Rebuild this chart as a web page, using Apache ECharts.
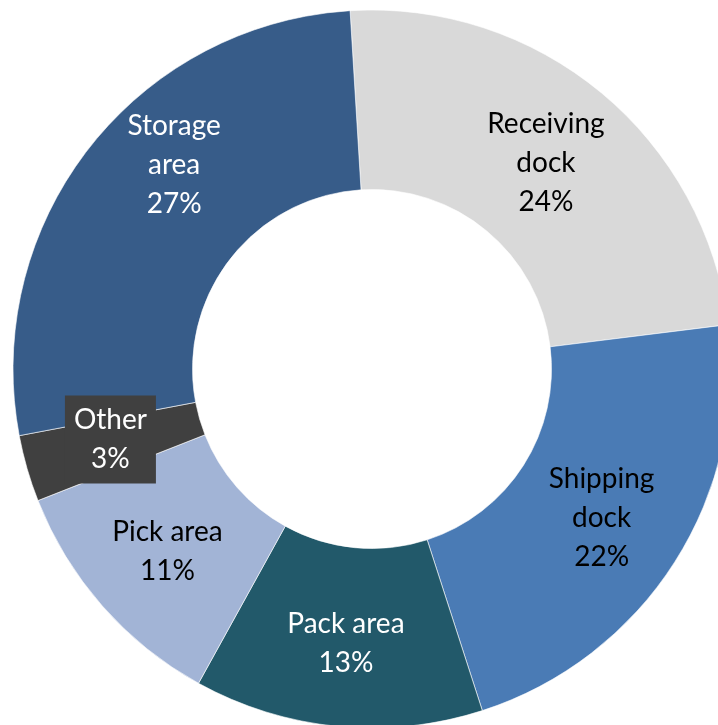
<!DOCTYPE html>
<html>
<head>
<meta charset="utf-8">
<script src="https://cdn.jsdelivr.net/npm/echarts@6/dist/echarts.min.js"></script>
<style>
html, body { margin: 0; padding: 0; background: #fff; }
#pie-area { width: 718px; height: 725px; }
</style>
</head>
<body>
<div id="pie-area"></div>
<script>
// 各区域占比
var areaNames = ['Receiving\ndock', 'Shipping\ndock', 'Pack area', 'Pick area', 'Other', 'Storage\narea'];
var areaValues = [24, 22, 13, 11, 3, 27];
var areaColors = ['#d9d9d9', '#4a7bb5', '#22596a', '#a2b4d6', '#404040', '#375c89'];
var labelColors = ['#000', '#000', '#fff', '#000', '#fff', '#fff'];

createAreaPie();

function createAreaPie() {
    var data = [];
    for (var i = 0; i < areaNames.length; i++) {
        var item = {
            value: areaValues[i],
            name: areaNames[i],
            itemStyle: { color: areaColors[i] },
            label: { color: labelColors[i] }
        };
        if (areaNames[i] == 'Other') {
            item.label.backgroundColor = '#404040';
            item.label.padding = [6, 9, 4, 9];
            item.label.offset = [0, -5];
        }
        if (areaNames[i] == 'Storage\narea') {
            item.label.offset = [17, -37];
        }
        data.push(item);
    }
    var option = {
        animation: false,
        series: [{
            type: 'pie',
            radius: [179.5, 359],
            center: [372, 369],
            startAngle: 93.5,
            clockwise: true,
            avoidLabelOverlap: false,
            itemStyle: {
                borderColor: '#fff',
                borderWidth: 0.6
            },
            label: {
                show: true,
                position: 'inside',
                fontFamily: 'Lato',
                fontSize: 28,
                lineHeight: 39,
                offset: [0, 3],
                align: 'center',
                formatter: function (p) {
                    return p.name + '\n' + p.value + '%';
                }
            },
            labelLine: { show: false },
            data: data
        }]
    };
    var echart = echarts.init(document.getElementById('pie-area'));
    echart.setOption(option, true);
}
</script>
</body>
</html>
